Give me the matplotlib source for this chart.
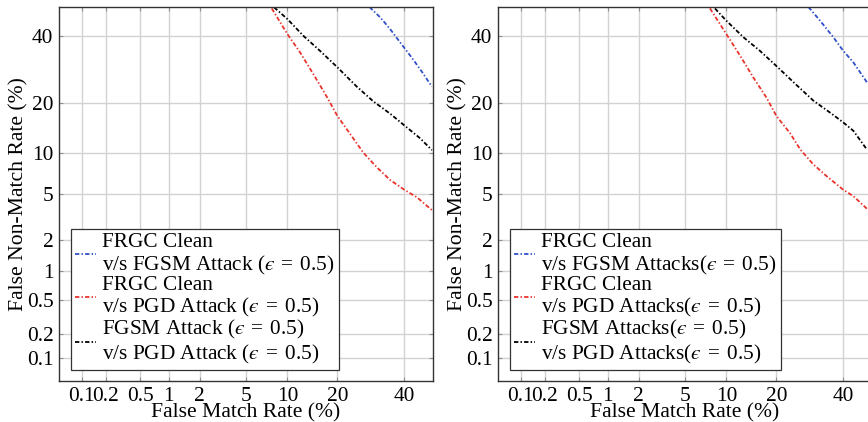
from statistics import NormalDist

import matplotlib

matplotlib.use("Agg")
import matplotlib.pyplot as plt
import numpy as np
from matplotlib.ticker import FixedLocator, FixedFormatter, NullLocator


# DET curves (percent values)
TICKS = [0.1, 0.2, 0.5, 1, 2, 5, 10, 20, 40]
TICK_LABELS = ["0.1", "0.2", "0.5", "1", "2", "5", "10", "20", "40"]
AX_LIMITS = (0.05, 50.0)

# left panel
L_FGSM_FMR = [28.8, 32.1, 35.3, 38.6, 42.1, 45.5, 49.6]
L_FGSM_FNMR = [50.0, 46.4, 42.3, 37.8, 33.4, 29.2, 24.2]
L_PGD_FMR = [7.8, 10, 12.1, 14.6, 17.5, 20, 23.3, 27.0, 31.1, 35.3, 40, 44.4, 49.6]
L_PGD_FNMR = [49.5, 40.6, 34.5, 27.8, 21.5, 16.9, 13.2, 10.0, 7.9, 6.4, 5.4, 4.7, 3.7]
L_FVP_FMR = [8.1, 10, 12.7, 16.0, 20, 25.1, 30.0, 35.3, 40, 45.5, 49.6]
L_FVP_FNMR = [49.9, 45.8, 40.0, 35.0, 29.8, 24.2, 20.3, 17.4, 14.9, 12.4, 10.4]

# right panel
R_FGSM_FMR = [28.8, 32.4, 36.7, 40, 43.5, 48.2]
R_FGSM_FNMR = [50.0, 45.2, 39.5, 35.0, 31.3, 25.4]
R_PGD_FMR = [7.7, 10, 12.3, 14.8, 17.7, 20, 23.6, 26.4, 30.3, 34.6, 40, 43.5, 48.2]
R_PGD_FNMR = [49.5, 40.6, 33.4, 26.8, 21.2, 16.9, 13.3, 10.5, 8.3, 6.8, 5.4, 4.8, 3.8]
R_FVP_FMR = [8.35, 10, 12.9, 16.2, 20, 24.5, 30.3, 35.7, 40, 43.5, 48.2]
R_FVP_FNMR = [49.5, 45.2, 39.5, 35.0, 30.2, 25.4, 20.5, 17.6, 15.5, 13.8, 10.5]

EPS = "($\u03f5$\u2004=\u20040.5)"
L_LABELS = [
    "FRGC Clean\nv/s FGSM Attack " + EPS,
    "FRGC Clean\nv/s PGD Attack " + EPS,
    "FGSM Attack " + EPS + "\nv/s PGD Attack " + EPS,
]
R_LABELS = [
    "FRGC Clean\nv/s FGSM Attacks" + EPS,
    "FRGC Clean\nv/s PGD Attacks" + EPS,
    "FGSM Attacks" + EPS + "\nv/s PGD Attacks" + EPS,
]
COLORS = ["#2f4fc8", "#e8342c", "#000000"]

_nd = NormalDist()
_ppf = np.vectorize(_nd.inv_cdf, otypes=[float])
_cdf = np.vectorize(_nd.cdf, otypes=[float])


def probit(p):
    p = np.clip(np.asarray(p, dtype=float) / 100.0, 1e-9, 1 - 1e-9)
    return _ppf(p)


def inv_probit(z):
    return _cdf(np.asarray(z, dtype=float)) * 100.0


def draw_det(ax, curves, labels):
    style = (0, (2.4, 1.2, 0.8, 1.2))
    for (fmr, fnmr), color, label in zip(curves, COLORS, labels):
        ax.plot(fmr, fnmr, color=color, lw=1.3, linestyle=style, label=label)

    for axis_set in (ax.set_xscale, ax.set_yscale):
        axis_set("function", functions=(probit, inv_probit))
    ax.set_xlim(*AX_LIMITS)
    ax.set_ylim(*AX_LIMITS)
    for axis in (ax.xaxis, ax.yaxis):
        axis.set_major_locator(FixedLocator(TICKS))
        axis.set_major_formatter(FixedFormatter(TICK_LABELS))
        axis.set_minor_locator(NullLocator())

    ax.grid(True, color="#d2d2d2", lw=1.0)
    ax.set_axisbelow(True)
    ax.tick_params(direction="in", length=3, color="#909090", labelsize=15.4,
                   top=True, right=True, pad=4)
    for sp in ax.spines.values():
        sp.set_color("#333333")
        sp.set_linewidth(1.0)

    ax.set_xlabel("False Match Rate (%)", fontsize=15.6, labelpad=-1.5)
    ax.set_ylabel("False Non-Match Rate (%)", fontsize=15.6, labelpad=-1)

    leg = ax.legend(
        loc="lower left",
        bbox_to_anchor=(0.032, 0.029),
        borderaxespad=0,
        fontsize=15.3,
        handlelength=1.0,
        handletextpad=0.25,
        borderpad=0.2,
        labelspacing=-0.05,
        fancybox=False,
        framealpha=1,
        edgecolor="#333333",
    )
    leg.get_frame().set_linewidth(0.9)
    for t in leg.get_texts():
        t.set_linespacing(1.1)


def main():
    plt.rcParams["font.family"] = ["Liberation Serif", "DejaVu Serif"]
    plt.rcParams["mathtext.fontset"] = "stix"

    fig = plt.figure(figsize=(8.68, 4.22), dpi=100, facecolor="white")
    ax_l = fig.add_axes([59 / 868, 41 / 422, 374 / 868, 374 / 422])
    ax_r = fig.add_axes([498 / 868, 41 / 422, 374 / 868, 374 / 422])

    draw_det(
        ax_l,
        [(L_FGSM_FMR, L_FGSM_FNMR), (L_PGD_FMR, L_PGD_FNMR), (L_FVP_FMR, L_FVP_FNMR)],
        L_LABELS,
    )
    draw_det(
        ax_r,
        [(R_FGSM_FMR, R_FGSM_FNMR), (R_PGD_FMR, R_PGD_FNMR), (R_FVP_FMR, R_FVP_FNMR)],
        R_LABELS,
    )

    fig.savefig("out.png", dpi=100, facecolor="white")
    plt.close(fig)


if __name__ == "__main__":
    main()
